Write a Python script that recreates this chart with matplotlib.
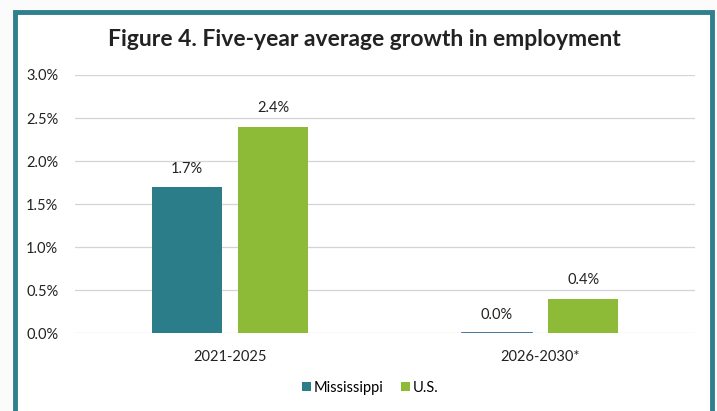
import matplotlib
matplotlib.use("Agg")
import matplotlib.pyplot as plt
from matplotlib.patches import Rectangle
import numpy as np

plt.rcParams['font.family'] = ['Lato', 'DejaVu Sans']

periods = ["2021-2025", "2026-2030*"]
mississippi = [1.7, 0.0]
us = [2.4, 0.4]
yticks = [0.0, 0.5, 1.0, 1.5, 2.0, 2.5, 3.0]

teal = "#2b7d8a"
green = "#8dbb37"

fig = plt.figure(figsize=(7.17, 4.11), dpi=100)
fig.patch.set_facecolor("#fbfbfb")

# frame around the figure, running off the bottom edge
W, H = 717, 411
frame = Rectangle((15 / W, -0.05), (712 - 15) / W, 1.05 - 12 / H,
                  transform=fig.transFigure, facecolor="white",
                  edgecolor="#2f7f8e", linewidth=3.5, zorder=-5)
fig.patches.append(frame)

ax = fig.add_axes([75 / W, 1 - 333 / H, (695 - 75) / W, (333 - 75) / H])
ax.set_facecolor("none")
ax.set_zorder(2)

x = np.arange(len(periods))
w = 0.226
off = 0.14
b1 = ax.bar(x - off, mississippi, w, color=teal, label="Mississippi", zorder=3)
b2 = ax.bar(x + off, us, w, color=green, label="U.S.", zorder=3)

# the 0.0% bar is drawn as a thin line
ax.plot([x[1] - off - w / 2, x[1] - off + w / 2], [0.004, 0.004],
        color="#2a5f8a", linewidth=1.2, zorder=4)

for bars, vals in ((b1, mississippi), (b2, us)):
    for rect, v in zip(bars, vals):
        ax.text(rect.get_x() + rect.get_width() / 2, v + 0.13, f"{v:.1f}%",
                ha="center", va="bottom", fontsize=10.5, color="#222222")

ax.set_xlim(-0.5, 1.5)
ax.set_ylim(0, 3.0)
ax.set_yticks(yticks)
ax.set_yticklabels([f"{t:.1f}%" for t in yticks], fontsize=10.5, color="#222222")
ax.set_xticks(x)
ax.set_xticklabels(periods, fontsize=10.5, color="#222222")
ax.tick_params(axis="both", length=0)
ax.tick_params(axis="y", pad=12)
ax.tick_params(axis="x", pad=12)
ax.grid(axis="y", color="#d4d4d4", linewidth=0.9, zorder=0)
for s in ax.spines.values():
    s.set_visible(False)

fig.text(364 / W, 1 - 40 / H, "Figure 4. Five-year average growth in employment",
         ha="center", va="center", fontsize=16.5, fontweight="bold", color="#222222")

fig.legend(handles=[b1, b2], loc="center", bbox_to_anchor=(370 / W, 1 - 388 / H),
           ncol=2, frameon=False, fontsize=10.5, handlelength=0.6, handleheight=0.6,
           handletextpad=0.2, columnspacing=1.2)

fig.savefig("out.png", dpi=100, facecolor=fig.get_facecolor())
